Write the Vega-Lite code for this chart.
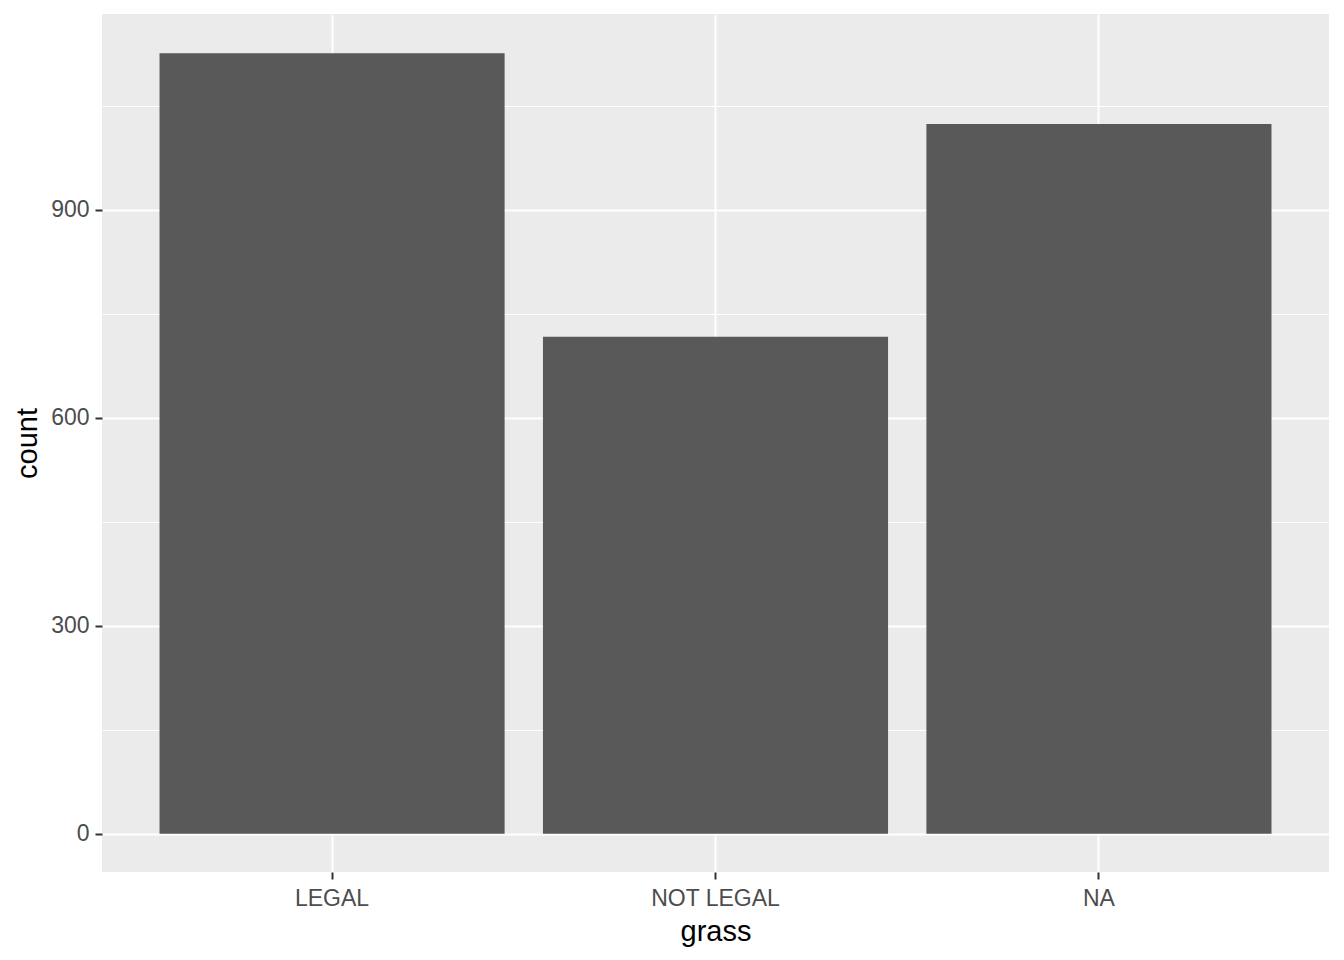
{
  "$schema": "https://vega.github.io/schema/vega-lite/v6.json",
  "autosize": "none",
  "width": 1227,
  "height": 858,
  "padding": {"left": 102, "top": 14, "right": 15, "bottom": 88},
  "background": "white",
  "config": {
    "view": {"fill": "#EBEBEB", "stroke": null},
    "font": "Liberation Sans"
  },
  "data": {
    "values": [
      {"grass": "LEGAL", "count": 1126},
      {"grass": "NOT LEGAL", "count": 717},
      {"grass": "NA", "count": 1024}
    ]
  },
  "mark": {"type": "bar", "color": "#595959"},
  "encoding": {
    "x": {
      "field": "grass",
      "type": "nominal",
      "sort": null,
      "scale": {"paddingInner": 0.1, "paddingOuter": 0.15},
      "axis": {
        "title": "grass",
        "labelAngle": 0,
        "domain": false,
        "grid": true,
        "bandPosition": 0.5,
        "gridColor": "white",
        "gridWidth": 2,
        "tickColor": "#333333",
        "tickWidth": 2,
        "tickSize": 7,
        "labelPadding": 8,
        "labelFontSize": 23,
        "labelColor": "#4D4D4D",
        "labelFont": "Liberation Sans",
        "titleFont": "Liberation Sans",
        "titleFontSize": 29,
        "titleFontWeight": "normal",
        "titleColor": "black",
        "titlePadding": 7
      }
    },
    "y": {
      "field": "count",
      "type": "quantitative",
      "scale": {"domain": [-55, 1182.7], "nice": false, "zero": false},
      "axis": {
        "title": "count",
        "values": [0, 150, 300, 450, 600, 750, 900, 1050],
        "labelExpr": "datum.value % 300 === 0 ? datum.label : ''",
        "domain": false,
        "grid": true,
        "gridColor": "white",
        "gridWidth": {"condition": {"test": "datum.value % 300 === 0", "value": 2}, "value": 1},
        "tickColor": {"condition": {"test": "datum.value % 300 === 0", "value": "#333333"}, "value": "transparent"},
        "tickWidth": 2,
        "tickSize": 7,
        "labelPadding": 6,
        "labelFontSize": 23,
        "labelColor": "#4D4D4D",
        "labelFont": "Liberation Sans",
        "titleFont": "Liberation Sans",
        "titleFontSize": 29,
        "titleFontWeight": "normal",
        "titleColor": "black",
        "titlePadding": 8
      }
    }
  }
}
